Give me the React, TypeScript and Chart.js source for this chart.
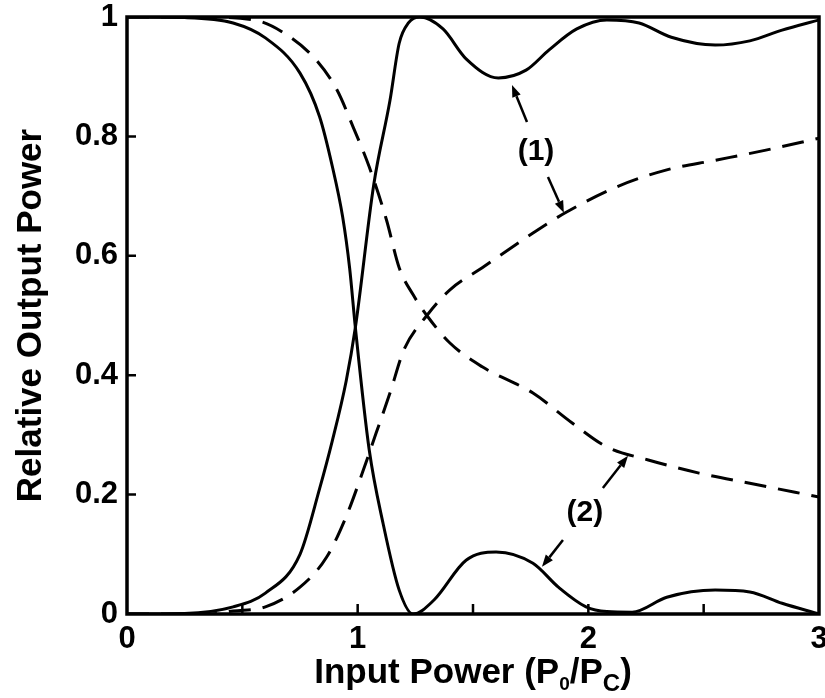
import React, { useEffect, useRef } from "react";
import { Chart, registerables } from "chart.js";

Chart.register(...registerables);

// ---- data (x = input power P0/Pc, y = relative output power) ----
const solidFallX = [0, 0.25, 0.46, 0.6, 0.75, 0.835, 0.89, 0.935, 0.965, 0.99, 1.05, 1.11, 1.18, 1.24, 1.33, 1.47, 1.6, 1.76, 1.87, 1.99, 2.08, 2.19, 2.34, 2.55, 2.7, 2.84, 3.0];
const solidFallY = [1, 0.999, 0.99, 0.965, 0.906, 0.833, 0.75, 0.665, 0.58, 0.48, 0.275, 0.152, 0.04, 0, 0.023, 0.09, 0.104, 0.085, 0.045, 0.012, 0.004, 0.003, 0.028, 0.04, 0.037, 0.018, 0];

const solidRiseX = [0, 0.25, 0.46, 0.6, 0.75, 0.835, 0.89, 0.95, 0.99, 1.07, 1.14, 1.18, 1.22, 1.27, 1.37, 1.47, 1.61, 1.73, 1.83, 1.95, 2.08, 2.22, 2.36, 2.55, 2.7, 2.84, 3.0];
const solidRiseY = [0, 0.001, 0.012, 0.035, 0.1, 0.21, 0.29, 0.39, 0.48, 0.72, 0.86, 0.956, 0.99, 1.0, 0.98, 0.93, 0.898, 0.911, 0.945, 0.98, 0.995, 0.99, 0.966, 0.953, 0.96, 0.978, 0.995];

const dashFallX = [0, 0.3, 0.55, 0.705, 0.82, 0.91, 0.98, 1.05, 1.125, 1.18, 1.24, 1.3, 1.4, 1.54, 1.76, 1.93, 2.08, 2.26, 2.48, 2.7, 3.0];
const dashFallY = [1, 1, 0.995, 0.967, 0.928, 0.878, 0.816, 0.749, 0.66, 0.58, 0.535, 0.5, 0.454, 0.414, 0.37, 0.32, 0.28, 0.258, 0.236, 0.219, 0.196];

const dashRiseX = [0, 0.35, 0.46, 0.6, 0.75, 0.865, 0.95, 1.02, 1.08, 1.14, 1.2, 1.3, 1.4, 1.54, 1.76, 1.9, 2.12, 2.34, 2.55, 2.77, 3.0];
const dashRiseY = [0, 0, 0.005, 0.012, 0.045, 0.095, 0.163, 0.236, 0.303, 0.37, 0.442, 0.5, 0.543, 0.58, 0.638, 0.672, 0.715, 0.744, 0.76, 0.777, 0.797];

const xTickMarks = [0.5, 1, 1.5, 2, 2.5];
const yTickMarks = [0.2, 0.4, 0.6, 0.8];

// annotation labels and arrows (data coordinates)
const labelTexts = ["(1)", "(2)"];
const labelX = [1.773, 1.985];
const labelY = [0.774, 0.169];
const arrowFromX = [1.734, 1.825, 2.063, 1.89];
const arrowFromY = [0.824, 0.732, 0.211, 0.124];
const arrowToX = [1.669, 1.894, 2.172, 1.799];
const arrowToY = [0.886, 0.672, 0.265, 0.079];

const yTitle = "Relative Output Power";
const xTitleParts = [
  { t: "Input Power (P", size: 35, dy: 0, w: "bold" },
  { t: "0", size: 19, dy: 7, w: "bold" },
  { t: "/P", size: 35, dy: 0, w: "bold" },
  { t: "C", size: 24, dy: 8, w: "bold" },
  { t: ")", size: 35, dy: 0, w: "bold" },
];

const FONT = '"Liberation Sans", Arial, Helvetica, sans-serif';

const toPts = (xs: number[], ys: number[]) => xs.map((x, i) => ({ x, y: ys[i] }));

const decorPlugin = {
  id: "decor",
  afterDatasetsDraw(chart: any) {
    const { ctx, chartArea: a, scales } = chart;
    const x = scales.x;
    const y = scales.y;
    ctx.save();
    ctx.strokeStyle = "#000";
    ctx.fillStyle = "#000";
    // frame
    ctx.lineWidth = 3.5;
    ctx.strokeRect(a.left, a.top, a.right - a.left, a.bottom - a.top);
    // inward ticks
    ctx.lineWidth = 2.5;
    ctx.beginPath();
    for (const v of xTickMarks) {
      const px = x.getPixelForValue(v);
      ctx.moveTo(px, a.bottom);
      ctx.lineTo(px, a.bottom - 10);
    }
    for (const v of yTickMarks) {
      const py = y.getPixelForValue(v);
      ctx.moveTo(a.left, py);
      ctx.lineTo(a.left + 9, py);
    }
    ctx.stroke();
    // arrows
    ctx.lineWidth = 2.5;
    for (let i = 0; i < arrowFromX.length; i++) {
      const x0 = x.getPixelForValue(arrowFromX[i]);
      const y0 = y.getPixelForValue(arrowFromY[i]);
      const x1 = x.getPixelForValue(arrowToX[i]);
      const y1 = y.getPixelForValue(arrowToY[i]);
      const ang = Math.atan2(y1 - y0, x1 - x0);
      const hl = 12;
      const hw = 4.5;
      const bx = x1 - hl * Math.cos(ang);
      const by = y1 - hl * Math.sin(ang);
      ctx.beginPath();
      ctx.moveTo(x0, y0);
      ctx.lineTo(bx, by);
      ctx.stroke();
      ctx.beginPath();
      ctx.moveTo(x1, y1);
      ctx.lineTo(bx + hw * Math.sin(ang), by - hw * Math.cos(ang));
      ctx.lineTo(bx - hw * Math.sin(ang), by + hw * Math.cos(ang));
      ctx.closePath();
      ctx.fill();
    }
    // labels
    ctx.font = `bold 30px ${FONT}`;
    ctx.textAlign = "center";
    ctx.textBaseline = "middle";
    for (let i = 0; i < labelTexts.length; i++) {
      ctx.fillText(labelTexts[i], x.getPixelForValue(labelX[i]), y.getPixelForValue(labelY[i]));
    }
    // y title
    ctx.save();
    ctx.translate(41, (a.top + a.bottom) / 2);
    ctx.rotate(-Math.PI / 2);
    ctx.font = `bold 35px ${FONT}`;
    ctx.textAlign = "center";
    ctx.textBaseline = "alphabetic";
    ctx.fillText(yTitle, 0, 0);
    ctx.restore();
    // x title with subscripts
    ctx.textAlign = "left";
    ctx.textBaseline = "alphabetic";
    let total = 0;
    const widths = xTitleParts.map((p) => {
      ctx.font = `${p.w} ${p.size}px ${FONT}`;
      const w = ctx.measureText(p.t).width;
      total += w;
      return w;
    });
    let cx = (a.left + a.right) / 2 - total / 2;
    const base = 683;
    xTitleParts.forEach((p, i) => {
      ctx.font = `${p.w} ${p.size}px ${FONT}`;
      ctx.fillText(p.t, cx, base + p.dy);
      cx += widths[i];
    });
    ctx.restore();
  },
};

export default function App() {
  const ref = useRef<HTMLCanvasElement | null>(null);
  useEffect(() => {
    document.body.style.margin = "0";
    const canvas = ref.current;
    if (!canvas) return;
    const lineCommon = {
      borderColor: "#000",
      borderWidth: 3,
      pointRadius: 0,
      fill: false,
      cubicInterpolationMode: "monotone" as const,
    };
    const fmt = (v: any) => String(Math.round(Number(v) * 10) / 10);
    const chart = new Chart(canvas, {
      type: "line",
      data: {
        datasets: [
          { ...lineCommon, label: "solid fall", data: toPts(solidFallX, solidFallY) },
          { ...lineCommon, label: "solid rise", data: toPts(solidRiseX, solidRiseY) },
          { ...lineCommon, label: "dash fall", data: toPts(dashFallX, dashFallY), borderDash: [22, 12] },
          { ...lineCommon, label: "dash rise", data: toPts(dashRiseX, dashRiseY), borderDash: [22, 12] },
        ],
      },
      options: {
        responsive: false,
        animation: false,
        layout: { padding: { top: 17, right: 6, left: 0, bottom: 0 } },
        plugins: { legend: { display: false }, tooltip: { enabled: false } },
        scales: {
          x: {
            type: "linear",
            min: 0,
            max: 3,
            afterFit(s: any) {
              s.height = 84;
              s.paddingLeft = 0;
              s.paddingRight = 0;
            },
            ticks: {
              stepSize: 1,
              callback: fmt,
              font: { family: FONT, size: 31, weight: "bold" },
              color: "#000",
              padding: 7,
              maxRotation: 0,
              autoSkip: false,
            },
            grid: { display: false, drawTicks: false },
            border: { display: false },
          },
          y: {
            type: "linear",
            min: 0,
            max: 1,
            afterFit(s: any) {
              s.width = 127;
              s.paddingTop = 0;
              s.paddingBottom = 0;
            },
            ticks: {
              stepSize: 0.2,
              callback: fmt,
              font: { family: FONT, size: 31, weight: "bold" },
              color: "#000",
              padding: 9,
              autoSkip: false,
            },
            grid: { display: false, drawTicks: false },
            border: { display: false },
          },
        },
      },
      plugins: [decorPlugin],
    });
    return () => chart.destroy();
  }, []);
  return (
    <div style={{ width: 825, height: 698, background: "#fff" }}>
      <canvas ref={ref} width={825} height={698} />
    </div>
  );
}
